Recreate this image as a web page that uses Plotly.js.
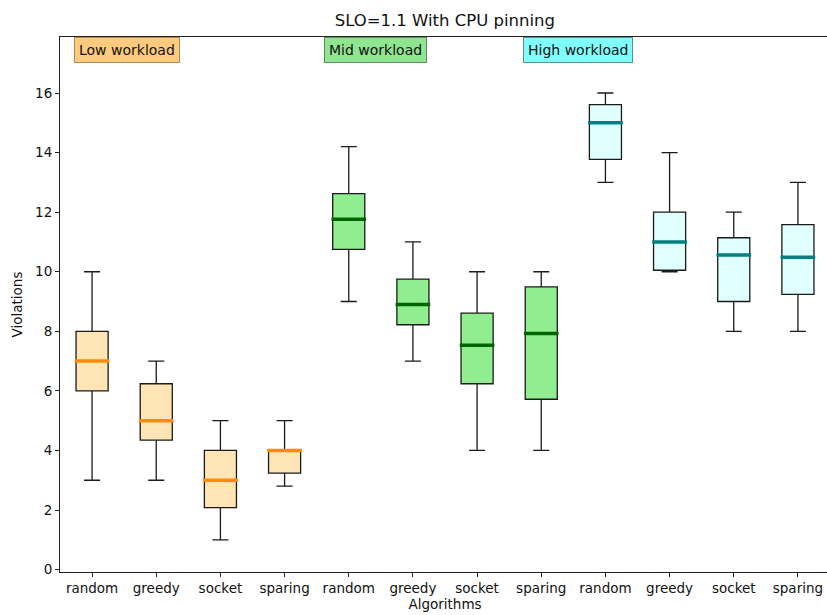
<!DOCTYPE html>
<html>
<head>
<meta charset="utf-8">
<script src="https://cdn.plot.ly/plotly-3.0.1.min.js"></script>
<style>
html,body{margin:0;padding:0;overflow:hidden;background:#fff;}
#chart{width:830px;height:615px;}
</style>
</head>
<body>
<div id="chart"></div>
<script>
// ---- data ----
const categories = ['random', 'greedy', 'socket', 'sparing'];
const groupNames = ['Low workload', 'Mid workload', 'High workload'];

const lowLower  = [3, 3, 1, 2.8];
const lowQ1     = [6, 4.35, 2.08, 3.24];
const lowMedian = [7, 5, 3, 4];
const lowQ3     = [8, 6.24, 4, 4];
const lowUpper  = [10, 7, 5, 5];

const midLower  = [9, 7, 4, 4];
const midQ1     = [10.75, 8.22, 6.24, 5.72];
const midMedian = [11.76, 8.9, 7.53, 7.93];
const midQ3     = [12.62, 9.75, 8.61, 9.49];
const midUpper  = [14.2, 11, 10, 10];

const highLower  = [13, 10, 8, 8];
const highQ1     = [13.77, 10.05, 9, 9.24];
const highMedian = [15, 11, 10.56, 10.49];
const highQ3     = [15.61, 12, 11.14, 11.58];
const highUpper  = [16, 14, 12, 13];

// ---- styles ----
const groups = [
  {lower: lowLower, q1: lowQ1, med: lowMedian, q3: lowQ3, upper: lowUpper,
   fill: '#FFE4B5', medColor: '#FF8C00', labelBg: '#FDCB7E', labelBorder: '#B08A55', x0: 0.0182},
  {lower: midLower, q1: midQ1, med: midMedian, q3: midQ3, upper: midUpper,
   fill: '#90EE90', medColor: '#006400', labelBg: '#90E690', labelBorder: '#5E8F5E', x0: 0.343},
  {lower: highLower, q1: highQ1, med: highMedian, q3: highQ3, upper: highUpper,
   fill: '#E0FFFF', medColor: '#008080', labelBg: '#80FFFF', labelBorder: '#5A9090', x0: 0.601}
];

const traces = [];
const annotations = [];
const tickvals = [];
const ticktext = [];
const halfMed = 0.27;

groups.forEach((g, gi) => {
  const xs = categories.map((c, i) => gi * categories.length + i + 1);
  xs.forEach((x, i) => { tickvals.push(x); ticktext.push(categories[i]); });
  traces.push({
    type: 'box',
    x: xs,
    q1: g.q1, median: g.med, q3: g.q3,
    lowerfence: g.lower, upperfence: g.upper,
    boxpoints: false,
    width: 0.5,
    whiskerwidth: 0.5,
    fillcolor: g.fill,
    line: {color: '#1a1a1a', width: 1.3},
    showlegend: false,
    hoverinfo: 'skip'
  });
  const mx = [], my = [];
  xs.forEach((x, i) => {
    mx.push(x - halfMed, x + halfMed, null);
    my.push(g.med[i], g.med[i], null);
  });
  traces.push({
    type: 'scatter', mode: 'lines',
    x: mx, y: my,
    line: {color: g.medColor, width: 3.5},
    showlegend: false, hoverinfo: 'skip'
  });
  annotations.push({
    xref: 'paper', yref: 'paper',
    x: g.x0, y: 1, xanchor: 'left', yanchor: 'top', yshift: 0,
    text: groupNames[gi], showarrow: false,
    bgcolor: g.labelBg, bordercolor: g.labelBorder, borderwidth: 1, borderpad: 4,
    font: {family: 'DejaVu Sans', size: 14, color: '#111'}
  });
});

const layout = {
  width: 830, height: 615,
  margin: {l: 60, r: 0, t: 37, b: 43},
  paper_bgcolor: '#fff', plot_bgcolor: '#fff',
  font: {family: 'DejaVu Sans', size: 13.5, color: '#111'},
  title: {text: 'SLO=1.1 With CPU pinning', x: 0.536, xanchor: 'center', y: 0.967, yanchor: 'middle',
          font: {family: 'DejaVu Sans', size: 16.5, color: '#111'}},
  xaxis: {
    range: [0.5, 12.5], tickvals: tickvals, ticktext: ticktext,
    showgrid: false, zeroline: false,
    showline: true, mirror: true, linecolor: '#222', linewidth: 1,
    ticks: 'outside', ticklen: 4, tickcolor: '#222',
    title: {text: 'Algorithms', standoff: 4, font: {size: 13.5}}
  },
  yaxis: {
    range: [-0.08, 17.88], tickvals: [0, 2, 4, 6, 8, 10, 12, 14, 16],
    showgrid: false, zeroline: false,
    showline: true, mirror: true, linecolor: '#222', linewidth: 1,
    ticks: 'outside', ticklen: 4, tickcolor: '#222',
    title: {text: 'Violations', standoff: 9, font: {size: 13.5}}
  },
  boxmode: 'overlay',
  annotations: annotations
};

Plotly.newPlot('chart', traces, layout, {displayModeBar: false, staticPlot: true});
</script>
</body>
</html>
